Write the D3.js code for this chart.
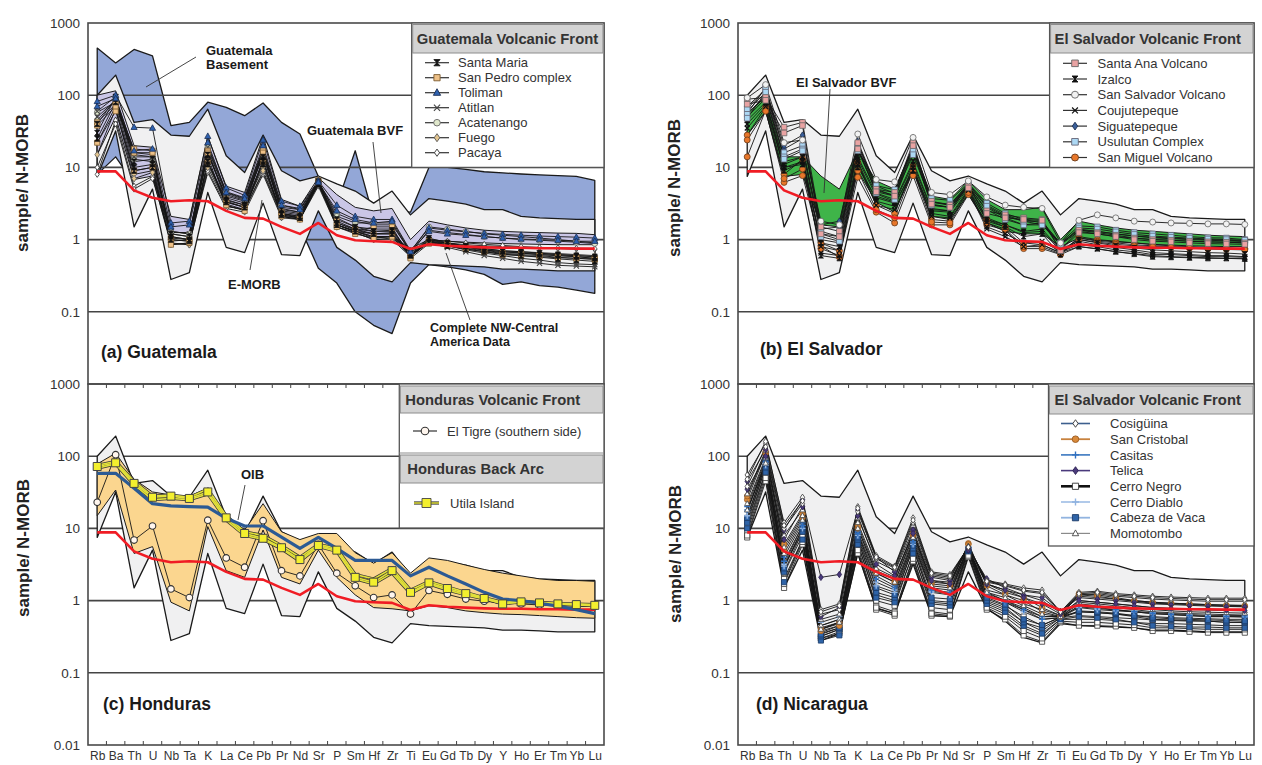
<!DOCTYPE html>
<html>
<head>
<meta charset="utf-8">
<script src="https://cdnjs.cloudflare.com/ajax/libs/d3/7.8.5/d3.min.js"></script>
<style>
  body { margin: 0; background: #fff; }
  text { font-family: "Liberation Sans", Arial, Helvetica, sans-serif; }
</style>
</head>
<body>
<svg id="fig" width="1262" height="765"></svg>
<script>
// ---- data -------------------------------------------------------------
var elements = ["Rb","Ba","Th","U","Nb","Ta","K","La","Ce","Pb","Pr","Nd","Sr","P","Sm","Hf","Zr","Ti","Eu","Gd","Tb","Dy","Y","Ho","Er","Tm","Yb","Lu"];
var yTickValues = [1000, 100, 10, 1, 0.1, 0.01];
var yTickLabels = ["1000", "100", "10", "1", "0.1", "0.01"];

// E-MORB / N-MORB (red line, all panels)
var eMorb = [8.8,8.8,4.8,3.8,3.4,3.5,3.4,2.5,2.0,1.95,1.5,1.2,1.7,1.15,0.98,0.95,0.93,0.74,0.86,0.82,0.8,0.78,0.77,0.77,0.76,0.76,0.75,0.75];
// Complete NW-Central America data (grey envelope)
var allUpper = [100,190,42,46,28,27,64,14.5,8.5,28,9,6.5,7.6,5.9,4.7,3.2,4.7,2.2,3.7,3.4,3.1,2.6,2.6,2.1,2.0,1.95,1.9,1.9];
var allLower = [7.5,32,1.5,5,0.28,0.35,4.5,0.78,0.66,3.2,0.62,0.6,2.5,0.78,0.52,0.31,0.26,0.48,0.45,0.44,0.43,0.42,0.39,0.39,0.38,0.37,0.37,0.37];

// (a) Guatemala
var basementUpper = [450,280,430,350,38,42,80,68,52,78,42,29,7.5,3.0,17,2.0,2.5,2.4,10,10,9.4,8.7,8.4,8.1,7.9,7.7,7.5,6.6];
var basementLower = [8,14,6,8,3,3,10,4,3,8,2,1.5,0.4,0.25,0.1,0.065,0.05,0.25,0.45,0.42,0.38,0.33,0.24,0.26,0.23,0.22,0.2,0.18];
var gtBvfUpper = [100,115,20,19,2.1,1.9,27,5.5,4.5,27,3.6,2.9,7.2,4.2,2.8,2.5,2.7,1.0,1.8,1.6,1.45,1.35,1.3,1.27,1.25,1.23,1.22,1.17];
var gtBvfLower = [15,50,6.8,7.6,1.25,1.25,14,2.9,2.6,13,2.1,1.9,6.0,1.6,1.3,1.1,1.1,0.75,1.0,0.95,0.92,0.9,0.88,0.87,0.86,0.85,0.85,0.85];
var gtSantaMaria = [
  [40,90,12,13,1.2,1.1,15,4.0,3.4,14,2.6,2.4,6.0,1.9,1.5,1.3,1.35,0.65,1.05,0.9,0.82,0.75,0.7,0.68,0.65,0.62,0.6,0.58],
  [30,95,10,11,1.1,1.0,12,3.5,3.0,12,2.3,2.1,5.8,1.7,1.4,1.3,1.3,0.62,1.0,0.88,0.8,0.72,0.68,0.65,0.62,0.6,0.58,0.55],
  [25,80,9,10,1.0,0.95,11,3.3,2.8,11,2.2,2.0,6.4,1.6,1.3,1.2,1.2,0.6,0.92,0.82,0.74,0.68,0.63,0.6,0.57,0.54,0.52,0.5]
];
var gtSanPedro = [
  [42,75,18,17,1.0,0.95,17,3.6,3.0,18,2.4,2.2,6.3,1.8,1.4,1.2,1.25,0.6,1.0,0.9,0.8,0.72,0.65,0.65,0.62,0.6,0.58,0.55],
  [22,60,9,10,0.85,0.9,12,3.0,2.5,12,2.1,1.9,6.0,1.5,1.2,1.05,1.1,0.58,0.95,0.85,0.76,0.7,0.64,0.62,0.6,0.57,0.55,0.53],
  [38,70,16,16,1.05,1.0,16,3.4,2.8,16,2.3,2.0,6.6,1.6,1.3,1.5,1.5,0.55,0.88,0.82,0.74,0.68,0.62,0.6,0.58,0.56,0.55,0.54]
];
var gtToliman = [
  [82,100,36,35,1.7,1.8,27,5.2,4.1,24,3.4,2.9,6.5,3.0,2.1,1.9,1.9,0.7,1.45,1.35,1.28,1.22,1.18,1.15,1.12,1.1,1.08,1.05],
  [70,90,17,18,1.5,1.6,22,4.5,3.7,20,3.0,2.6,6.2,2.5,1.9,1.7,1.8,0.68,1.3,1.2,1.15,1.1,1.05,1.02,1.0,0.98,0.95,0.95]
];
var gtAtitlan = [
  [50,85,14,14,1.1,1.0,16,3.8,3.2,15,2.5,2.3,6.0,1.7,1.35,1.2,1.2,0.62,0.95,0.82,0.72,0.65,0.6,0.55,0.52,0.48,0.46,0.45],
  [60,95,16,15,1.3,1.2,19,4.4,3.6,17,2.7,2.4,6.2,2.0,1.5,1.4,1.4,0.6,0.9,0.78,0.68,0.6,0.55,0.5,0.47,0.44,0.43,0.42]
];
var gtAcatenango = [
  [58,80,13,12,1.3,1.2,18,4.2,3.5,16,2.8,2.6,6.2,2.3,1.8,1.6,1.6,0.68,1.5,1.4,1.3,1.2,1.15,1.1,1.05,1.0,0.95,0.9],
  [45,85,15,14,1.2,1.1,20,4.6,3.8,18,3.0,2.7,6.5,2.1,1.7,1.7,1.7,0.66,1.35,1.25,1.18,1.1,1.05,1.0,0.98,0.95,0.92,0.88]
];
var gtFuego = [
  [22,70,8,9,0.9,0.85,12,3.3,2.8,10,2.3,2.1,6.5,1.6,1.3,1.1,1.1,0.6,0.95,0.88,0.8,0.75,0.7,0.68,0.66,0.64,0.62,0.6],
  [15,65,7,8.5,0.88,0.85,10,3.1,2.6,9,2.2,2.0,6.8,1.5,1.25,1.0,1.0,0.58,0.92,0.85,0.78,0.72,0.68,0.66,0.64,0.62,0.6,0.58]
];
var gtPacaya = [
  [8,45,5.5,7.5,0.85,0.9,8.5,2.7,2.4,8,2.0,1.9,5.5,1.5,1.25,1.0,1.05,0.62,0.95,0.9,0.85,0.82,0.8,0.78,0.76,0.75,0.74,0.73],
  [10,40,5,7,0.95,1.0,9,2.9,2.6,8.5,2.1,2.0,5.8,1.6,1.3,1.05,1.1,0.65,1.0,0.95,0.9,0.86,0.83,0.8,0.78,0.77,0.76,0.75]
];

// (b) El Salvador
var svBvfUpper = [55,95,14,14,7.6,5,17,6.5,5,19,4,3.6,6.5,3.6,2.6,2.6,2.8,1.0,1.8,1.6,1.45,1.35,1.3,1.25,1.2,1.15,1.12,1.1];
var svBvfLower = [28,60,7.5,8,1.6,1.5,9,3.3,2.4,9,2.1,1.9,4.2,1.7,1.3,1.2,1.2,0.8,1.05,0.98,0.93,0.9,0.86,0.84,0.82,0.81,0.8,0.8];
var svSantaAna = [
  [88,93,36,42,1.5,1.3,22,5.0,4.5,22,3.4,3.0,5.5,2.5,2.2,2.0,1.9,0.72,1.35,1.25,1.15,1.05,1.0,0.98,0.95,0.93,0.92,0.9],
  [75,85,30,38,1.2,1.1,18,4.6,4.0,20,3.1,2.8,5.2,2.3,2.0,1.9,1.85,0.7,1.25,1.2,1.1,1.0,0.95,0.93,0.9,0.88,0.87,0.86]
];
var svIzalco = [
  [45,80,10,11,1.0,0.9,14,4.3,3.4,12,2.7,2.5,5.6,2.0,1.6,1.3,1.4,0.72,1.0,0.9,0.82,0.77,0.72,0.7,0.68,0.66,0.65,0.63],
  [50,90,9,12,0.6,0.55,10,3.8,3.2,9,2.5,2.4,5.2,1.8,1.5,1.1,1.2,0.62,0.8,0.75,0.68,0.63,0.58,0.57,0.56,0.55,0.55,0.54],
  [55,100,11,14,0.9,0.8,13,4.0,3.3,11,2.6,2.5,5.8,1.9,1.6,1.25,1.3,0.7,0.95,0.85,0.78,0.72,0.66,0.64,0.62,0.6,0.6,0.58]
];
var svSanSalvador = [
  [92,140,22,24,1.8,1.6,29,6.8,6.3,26,4.5,4.2,6.5,3.9,3.0,2.8,2.7,0.9,1.85,2.2,2.0,1.8,1.75,1.7,1.68,1.65,1.65,1.62]
];
var svCoujutepeque = [
  [40,75,12,14,0.8,0.7,12,3.4,2.9,10,2.3,2.1,5.0,1.5,1.2,0.9,0.95,0.68,0.85,0.8,0.72,0.68,0.62,0.62,0.6,0.58,0.58,0.57],
  [35,70,10,12,0.65,0.6,11,3.0,2.6,9,2.1,2.0,4.8,1.4,1.1,0.8,0.85,0.66,0.8,0.74,0.68,0.64,0.6,0.58,0.57,0.56,0.55,0.55]
];
var svSiguatepeque = [
  [60,110,18,25,1.6,1.8,20,5.0,4.0,18,3.0,2.8,5.8,2.8,2.0,1.6,1.7,0.85,1.3,1.2,1.1,1.05,1.0,0.98,0.95,0.93,0.92,0.9],
  [70,120,20,28,1.4,1.5,23,5.5,4.4,20,3.3,3.0,6.0,3.0,2.2,1.8,1.8,0.88,1.4,1.3,1.2,1.12,1.06,1.03,1.0,0.98,0.96,0.94]
];
var svUsulutan = [
  [55,130,16,20,1.2,1.0,21,5.6,4.9,19,3.7,3.5,6.0,3.2,2.3,1.9,1.7,0.9,1.55,1.5,1.35,1.25,1.2,1.15,1.1,1.06,1.05,1.0],
  [65,120,14,18,1.3,1.1,19,4.4,3.6,17,3.0,2.8,5.5,2.6,1.9,1.6,1.6,0.88,1.35,1.3,1.2,1.12,1.08,1.05,1.02,1.0,0.98,0.96],
  [48,110,13,17,1.1,0.95,17,4.8,4.1,15,3.3,3.1,5.7,2.9,2.1,1.8,1.6,0.85,1.45,1.4,1.28,1.18,1.12,1.08,1.05,1.02,1.0,0.98]
];
var svSanMiguel = [
  [14,62,6.2,7.7,0.82,0.57,7.3,2.4,1.7,7.7,1.6,1.6,4.2,1.6,1.35,0.75,0.75,0.62,1.1,1.0,0.95,0.9,0.85,0.82,0.8,0.78,0.77,0.75],
  [28,68,8,13,0.9,0.7,11.7,3.0,2.3,10.5,1.9,1.8,4.8,1.9,1.5,0.9,0.85,0.65,1.05,0.95,0.9,0.85,0.82,0.8,0.78,0.77,0.76,0.74],
  [24,60,7,9.5,0.75,0.6,9,2.6,2.0,9,1.75,1.7,4.5,1.7,1.4,0.8,0.8,0.63,1.0,0.92,0.86,0.82,0.8,0.78,0.76,0.74,0.73,0.72]
];

// (c) Honduras
var hnRangeUpper = [78,110,48,32,29,28,36,15,9.5,22,9,7,8.5,8.5,4.6,3.3,4.6,2.4,3.9,3.6,3.1,2.7,2.4,2.2,2.0,1.9,1.9,1.85];
var hnRangeLower = [15,34,4.5,5.6,0.95,0.72,10.6,2.6,2.1,9.5,2.1,1.7,5,2.1,1.2,0.8,0.77,0.72,0.85,0.8,0.72,0.68,0.65,0.64,0.62,0.6,0.58,0.57];
var oib = [58,58,36,22,20.5,20,19.7,13.8,10.8,10.8,7.6,5.3,7.5,5.3,3.6,3.6,3.6,2.2,2.9,2.2,1.7,1.3,1.05,1.0,0.92,0.84,0.75,0.66];
var hnElTigre = [
  [23,105,6.9,10.8,1.45,1.1,13,3.9,2.9,12.8,2.6,2.2,6.0,2.4,1.6,1.1,1.2,0.65,1.38,1.22,1.05,0.98,0.93,0.9,0.87,0.85,0.84,0.83]
];
var hnUtila = [
  [68,78,40,25,26,25,30,13,8,7,5.2,3.5,5.6,4.8,2.0,1.7,2.4,1.25,1.7,1.4,1.2,1.05,0.92,0.95,0.92,0.89,0.87,0.85],
  [75,85,45,28,29,27,35,15,9,8,5.8,4,6,5.3,2.3,2.0,2.8,1.4,1.85,1.55,1.3,1.1,0.95,0.98,0.95,0.92,0.9,0.88],
  [72,81,42,27,28,26,32,14,8.5,7.3,5.4,3.7,5.8,5.0,2.1,1.8,2.6,1.3,1.76,1.47,1.25,1.07,0.9,0.96,0.93,0.9,0.88,0.86]
];

// (d) Nicaragua
var niCosiguina = [
  [55,150,12,27,0.75,0.9,20,4.2,3.0,14,2.5,2.3,5.5,1.9,1.7,1.5,1.4,0.7,1.3,1.35,1.25,1.2,1.15,1.12,1.1,1.08,1.08,1.08],
  [38,135,10,22,0.65,0.75,17,3.8,2.8,12,2.3,2.1,5.6,1.8,1.6,1.35,1.25,0.7,1.2,1.25,1.15,1.1,1.05,1.02,1.0,0.98,0.98,0.98],
  [48,160,11,24,0.7,0.85,19,4.0,2.9,13,2.4,2.2,5.5,1.85,1.65,1.4,1.3,0.7,1.25,1.3,1.2,1.15,1.1,1.07,1.05,1.03,1.03,1.03]
];
var niSanCristobal = [
  [25,110,5,14,0.38,0.45,10,2.4,1.8,8,1.7,1.6,6.2,1.6,1.2,1.0,0.7,0.6,1.25,1.2,1.1,1.0,0.95,0.92,0.9,0.88,0.86,0.85],
  [28,115,6,16,0.42,0.5,11,2.6,2.0,8.5,1.8,1.7,6.0,1.7,1.3,1.1,0.8,0.62,1.2,1.15,1.05,0.98,0.92,0.9,0.88,0.86,0.84,0.83]
];
var niCasitas = [
  [20,90,4,12,0.4,0.5,9,2.2,1.6,7,1.5,1.4,5.6,1.3,1.0,0.8,0.6,0.6,0.9,0.85,0.8,0.75,0.7,0.68,0.66,0.65,0.64,0.63],
  [18,85,3.5,11,0.36,0.45,8.5,2.0,1.5,6.5,1.4,1.3,5.4,1.2,0.95,0.75,0.55,0.58,0.85,0.8,0.75,0.7,0.66,0.64,0.62,0.6,0.6,0.59]
];
var niTelica = [
  [45,124,9.5,25,2.1,2.3,18,4,2.5,9.5,2.1,1.9,5.3,2.0,1.5,1.2,1.1,0.7,1.1,1.05,1.0,0.95,0.9,0.88,0.86,0.84,0.83,0.82],
  [35,100,7,20,0.6,0.8,15,3.2,2.2,8.5,1.9,1.7,5.0,1.7,1.4,1.1,0.9,0.65,1.0,0.95,0.9,0.85,0.8,0.78,0.76,0.75,0.74,0.73]
];
var niCerroNegro = [
  [7.5,45,1.5,6,0.3,0.35,4.5,0.75,0.62,3.5,0.62,0.6,4,0.75,0.55,0.33,0.27,0.5,0.45,0.45,0.44,0.42,0.38,0.38,0.37,0.36,0.36,0.36],
  [9,55,2,7,0.32,0.4,5.5,0.85,0.7,4,0.7,0.65,4.3,0.85,0.65,0.42,0.33,0.55,0.55,0.55,0.53,0.5,0.48,0.48,0.47,0.46,0.45,0.45],
  [11,62,2.4,8,0.35,0.42,6.3,1.0,0.85,4.6,0.8,0.75,4.6,0.95,0.75,0.5,0.38,0.58,0.62,0.6,0.58,0.56,0.54,0.53,0.52,0.52,0.5,0.5],
  [8,50,1.7,6.5,0.3,0.37,5,0.8,0.66,3.8,0.66,0.62,4.2,0.8,0.6,0.38,0.3,0.52,0.5,0.5,0.48,0.46,0.42,0.42,0.41,0.4,0.4,0.4],
  [13,70,3,9,0.4,0.48,7,1.2,1.0,5.5,0.95,0.9,5,1.05,0.85,0.6,0.45,0.6,0.7,0.68,0.65,0.62,0.6,0.58,0.57,0.56,0.55,0.55]
];
var niCerroDiablo = [
  [15,75,3,10,0.5,0.6,8,1.6,1.3,6,1.3,1.2,5.2,1.2,0.95,0.7,0.55,0.58,0.8,0.75,0.72,0.7,0.66,0.64,0.62,0.6,0.6,0.6],
  [17,80,3.2,11,0.45,0.55,8.5,1.8,1.4,6.5,1.35,1.25,5.3,1.25,1.0,0.75,0.6,0.6,0.82,0.78,0.74,0.71,0.68,0.66,0.64,0.62,0.62,0.62]
];
var niCabezaDeVaca = [
  [10,60,1.8,7,0.28,0.33,6,1.1,0.95,4.5,0.9,0.85,4.8,0.9,0.7,0.45,0.35,0.55,0.6,0.58,0.55,0.5,0.45,0.44,0.43,0.43,0.42,0.42],
  [12,70,2.5,9,0.32,0.4,7,1.3,1.1,5.3,1.0,0.95,5,1.0,0.8,0.5,0.42,0.57,0.7,0.68,0.65,0.6,0.55,0.54,0.53,0.52,0.5,0.5],
  [14,78,2.8,10,0.34,0.42,7.5,1.5,1.2,5.8,1.1,1.05,5.1,1.1,0.88,0.55,0.46,0.58,0.72,0.7,0.67,0.62,0.58,0.56,0.55,0.54,0.53,0.52]
];
var niMomotombo = [
  [22,95,5.5,15,0.45,0.55,12,2.8,2.1,9,1.9,1.8,5.5,1.4,1.2,0.9,0.75,0.62,1.0,0.95,0.9,0.85,0.8,0.78,0.75,0.74,0.73,0.72],
  [30,120,8,18,0.55,0.65,14,3.5,2.6,11,2.2,2.0,5.7,1.7,1.4,1.2,1.0,0.68,1.15,1.1,1.05,1.0,0.95,0.92,0.9,0.88,0.87,0.86],
  [18,80,4.5,13,0.4,0.5,10,2.4,1.8,7.5,1.6,1.5,5.3,1.3,1.1,0.85,0.65,0.6,0.95,0.9,0.85,0.8,0.75,0.72,0.7,0.69,0.68,0.67]
];

// ---- drawing ----------------------------------------------------------
var svg = d3.select("#fig");
var defs = svg.append("defs");
var FONT = "'Liberation Sans', Arial, sans-serif";

function markerPath(shape, r) {
  switch (shape) {
    case "circle": return d3.symbol(d3.symbolCircle, Math.PI * r * r)();
    case "square": return "M" + (-r) + "," + (-r) + "h" + 2 * r + "v" + 2 * r + "h" + (-2 * r) + "Z";
    case "triangle": return "M0," + (-r * 1.2) + "L" + r * 1.1 + "," + r * 0.8 + "L" + (-r * 1.1) + "," + r * 0.8 + "Z";
    case "diamond": return "M0," + (-r * 1.3) + "L" + r * 0.9 + ",0L0," + r * 1.3 + "L" + (-r * 0.9) + ",0Z";
    case "plus": return "M" + (-r) + ",0H" + r + "M0," + (-r) + "V" + r;
    case "x": return "M" + (-r) + "," + (-r) + "L" + r + "," + r + "M" + (-r) + "," + r + "L" + r + "," + (-r);
    case "hourglass": return "M" + (-r) + "," + (-r) + "H" + r + "L" + (-r) + "," + r + "H" + r + "Z";
  }
}

function setupPanel(p) {
  p.x = d3.scalePoint().domain(elements).range([p.left, p.right]).padding(0.5);
  p.y = d3.scaleLog().domain([0.01, 1000]).range([p.bottom, p.top]);
  defs.append("clipPath").attr("id", "clip-" + p.id).append("rect")
    .attr("x", p.left).attr("y", p.top)
    .attr("width", p.right - p.left).attr("height", p.bottom - p.top);
  p.g = svg.append("g");
  p.plot = p.g.append("g").attr("clip-path", "url(#clip-" + p.id + ")");
  p.line = d3.line()
    .x(function(d, i) { return p.x(elements[i]); })
    .y(function(d) { return p.y(d); });
  p.area = d3.area()
    .x(function(d, i) { return p.x(elements[i]); })
    .y0(function(d) { return p.y(d[0]); })
    .y1(function(d) { return p.y(d[1]); });
  return p;
}

function drawBand(p, lower, upper, fill, sw) {
  p.plot.append("path").datum(d3.zip(lower, upper))
    .attr("d", p.area).attr("fill", fill)
    .attr("stroke", "#1a1a1a").attr("stroke-width", sw).attr("stroke-linejoin", "round");
}

function drawGrid(p) {
  p.plot.selectAll(null).data([100, 10, 1, 0.1]).enter().append("line")
    .attr("x1", p.left).attr("x2", p.right)
    .attr("y1", function(d) { return p.y(d); }).attr("y2", function(d) { return p.y(d); })
    .attr("stroke", "#444").attr("stroke-width", 1.6);
}

function drawSamples(p, groups) {
  groups.forEach(function(gr) {
    gr.data.forEach(function(vals) {
      p.plot.append("path").datum(vals).attr("d", p.line)
        .attr("fill", "none").attr("stroke", "#151515").attr("stroke-width", 0.9);
    });
  });
  groups.forEach(function(gr) {
    gr.data.forEach(function(vals) {
      p.plot.selectAll(null).data(vals).enter().append("path")
        .attr("transform", function(d, i) { return "translate(" + p.x(elements[i]) + "," + p.y(d) + ")"; })
        .attr("d", markerPath(gr.style.shape, gr.style.r))
        .attr("fill", gr.style.fill).attr("stroke", gr.style.stroke)
        .attr("stroke-width", gr.style.sw || 0.8);
    });
  });
}

function drawRefLine(p, vals, color, w) {
  p.plot.append("path").datum(vals).attr("d", p.line)
    .attr("fill", "none").attr("stroke", color).attr("stroke-width", w)
    .attr("stroke-linejoin", "round");
}

function drawFrame(p, labels, showX) {
  var ax = p.g.append("g").attr("transform", "translate(" + p.left + ",0)")
    .call(d3.axisLeft(p.y).tickValues(labels).tickSize(0).tickPadding(8)
      .tickFormat(function(d) { return yTickLabels[yTickValues.indexOf(d)]; }));
  ax.select(".domain").remove();
  ax.selectAll("text").attr("font-size", 13.5).attr("fill", "#333").style("font-family", FONT);
  if (showX) {
    var bx = p.g.append("g").attr("transform", "translate(0," + p.bottom + ")")
      .call(d3.axisBottom(p.x).tickSize(0).tickPadding(6));
    bx.select(".domain").remove();
    bx.selectAll("text").attr("font-size", 12).attr("fill", "#333").style("font-family", FONT);
    var step = p.x.step();
    var edges = elements.slice(1).map(function(e) { return p.x(e) - step / 2; });
    [p.top, p.bottom].forEach(function(yy, k) {
      p.g.selectAll(null).data(edges).enter().append("line")
        .attr("x1", function(d) { return d; }).attr("x2", function(d) { return d; })
        .attr("y1", yy).attr("y2", k === 0 ? yy + 4 : yy - 4)
        .attr("stroke", "#444").attr("stroke-width", 1);
    });
  }
  p.g.append("rect").attr("x", p.left).attr("y", p.top)
    .attr("width", p.right - p.left).attr("height", p.bottom - p.top)
    .attr("fill", "none").attr("stroke", "#4a4a4a").attr("stroke-width", 1.6);
}

function yTitle(x, y) {
  svg.append("text").attr("transform", "translate(" + x + "," + y + ") rotate(-90)")
    .attr("text-anchor", "middle").attr("dy", "0.35em")
    .attr("font-size", 17).attr("font-weight", "bold").attr("fill", "#222")
    .text("sample/ N-MORB");
}

function note(lines, x, y, size, lh) {
  var t = svg.append("text").attr("x", x).attr("y", y)
    .attr("font-size", size).attr("font-weight", "bold").attr("fill", "#1a1a1a");
  lines.forEach(function(s, i) {
    t.append("tspan").attr("x", x).attr("dy", i === 0 ? 0 : lh).text(s);
  });
}

function leader(x1, y1, x2, y2) {
  svg.append("line").attr("x1", x1).attr("y1", y1).attr("x2", x2).attr("y2", y2)
    .attr("stroke", "#333").attr("stroke-width", 0.9);
}

function drawLegend(box, rows, lx0, lx1, tx) {
  var lg = svg.append("g");
  lg.append("rect").attr("x", box[0]).attr("y", box[1])
    .attr("width", box[2] - box[0]).attr("height", box[3] - box[1])
    .attr("fill", "#fff").attr("stroke", "#555").attr("stroke-width", 1.3);
  rows.forEach(function(r) {
    if (r.header) {
      lg.append("rect").attr("x", box[0] + 1).attr("y", r.y0)
        .attr("width", box[2] - box[0] - 2).attr("height", r.y1 - r.y0)
        .attr("fill", "#d3d3d3").attr("stroke", "#8c8c8c").attr("stroke-width", 1);
      lg.append("text").attr("x", box[0] + r.dx).attr("y", (r.y0 + r.y1) / 2).attr("dy", "0.36em")
        .attr("font-size", 14.8).attr("font-weight", "bold").attr("fill", "#333").text(r.header);
    } else if (r.sep) {
      lg.append("line").attr("x1", box[0]).attr("x2", box[2]).attr("y1", r.sep).attr("y2", r.sep)
        .attr("stroke", "#8c8c8c").attr("stroke-width", 1);
    } else {
      var st = r.style;
      var ax0 = r.lx0 || lx0, ax1 = r.lx1 || lx1;
      lg.append("line").attr("x1", ax0).attr("x2", ax1).attr("y1", r.y).attr("y2", r.y)
        .attr("stroke", st.line || "#333").attr("stroke-width", st.lineW || 1.2);
      if (st.core) {
        lg.append("line").attr("x1", ax0).attr("x2", ax1).attr("y1", r.y).attr("y2", r.y)
          .attr("stroke", st.core).attr("stroke-width", st.coreW);
      }
      lg.append("path").attr("transform", "translate(" + (ax0 + ax1) / 2 + "," + r.y + ")")
        .attr("d", markerPath(st.shape, st.lr || st.r + 0.5))
        .attr("fill", st.fill).attr("stroke", st.stroke).attr("stroke-width", st.sw || 0.9);
      lg.append("text").attr("x", r.tx || tx).attr("y", r.y).attr("dy", "0.36em")
        .attr("font-size", 13).attr("fill", "#333").text(r.name);
    }
  });
}

// marker styles
var stSantaMaria = { shape: "hourglass", r: 2.6, fill: "#111", stroke: "#111" };
var stSanPedro = { shape: "square", r: 2.6, fill: "#eec188", stroke: "#7a5a30" };
var stToliman = { shape: "triangle", r: 2.8, fill: "#2f62b0", stroke: "#1b2f55" };
var stAtitlan = { shape: "x", r: 2.6, fill: "none", stroke: "#444", sw: 1.1 };
var stAcatenango = { shape: "circle", r: 2.8, fill: "#e0e8cc", stroke: "#666" };
var stFuego = { shape: "diamond", r: 2.6, fill: "#e4c690", stroke: "#555" };
var stPacaya = { shape: "diamond", r: 2.3, fill: "#fff", stroke: "#333" };

var stSantaAna = { shape: "square", r: 2.8, fill: "#e9a3a3", stroke: "#666" };
var stIzalco = { shape: "hourglass", r: 2.5, fill: "#111", stroke: "#111" };
var stSanSalvador = { shape: "circle", r: 3, fill: "#f2f2f2", stroke: "#666" };
var stCoujutepeque = { shape: "x", r: 2.4, fill: "none", stroke: "#111", sw: 1.2 };
var stSiguatepeque = { shape: "diamond", r: 2.5, fill: "#3a5f9a", stroke: "#1d2f50" };
var stUsulutan = { shape: "square", r: 2.8, fill: "#acd8f4", stroke: "#667" };
var stSanMiguel = { shape: "circle", r: 3, fill: "#e8772a", stroke: "#6a3a18" };

var stElTigre = { shape: "circle", r: 3.3, fill: "#fff6ee", stroke: "#333", sw: 1.1 };
var stUtila = { shape: "square", r: 4, fill: "#f3ef2e", stroke: "#444", sw: 1 };
var stUtilaLegend = { shape: "square", r: 3.6, lr: 4.5, fill: "#f3ef2e", stroke: "#444", line: "#333", lineW: 3.2, core: "#e2e03a", coreW: 1.5 };

var stCosiguina = { shape: "diamond", r: 2.4, fill: "#fff", stroke: "#333", line: "#3d5f8e", lineW: 1.6 };
var stSanCristobal = { shape: "circle", r: 2.8, fill: "#d98a3a", stroke: "#9a5a20", line: "#c8823e", lineW: 1.8 };
var stCasitas = { shape: "plus", r: 3, fill: "none", stroke: "#2f6fc0", sw: 1.4, line: "#3a78c0", lineW: 1.6 };
var stTelica = { shape: "diamond", r: 2.5, fill: "#4a3a7c", stroke: "#2a2050", line: "#4a3a7c", lineW: 1.6 };
var stCerroNegro = { shape: "square", r: 2.6, fill: "#fff", stroke: "#333", line: "#111", lineW: 2.6 };
var stCerroDiablo = { shape: "plus", r: 3, fill: "none", stroke: "#8fb2e0", sw: 1.4, line: "#a9c4e8", lineW: 1.8 };
var stCabeza = { shape: "square", r: 2.6, fill: "#2f64a8", stroke: "#1b3a66", line: "#92b4e0", lineW: 1.8 };
var stMomotombo = { shape: "triangle", r: 2.4, fill: "#fff", stroke: "#444", line: "#8a8a8a", lineW: 1.2 };

// ---- panel (a) Guatemala ----
var pa = setupPanel({ id: "a", left: 88, right: 604, top: 23, bottom: 384 });
drawBand(pa, basementLower, basementUpper, "#93a7d7", 1.3);
drawGrid(pa);
drawBand(pa, allLower, allUpper, "#f0f0f1", 1.3);
drawBand(pa, gtBvfLower, gtBvfUpper, "#cac6e6", 1.0);
drawSamples(pa, [
  { data: gtPacaya, style: stPacaya }, { data: gtFuego, style: stFuego },
  { data: gtAcatenango, style: stAcatenango }, { data: gtAtitlan, style: stAtitlan },
  { data: gtSanPedro, style: stSanPedro }, { data: gtSantaMaria, style: stSantaMaria },
  { data: gtToliman, style: stToliman }
]);
drawRefLine(pa, eMorb, "#f01c24", 2.6);
drawFrame(pa, [1000, 100, 10, 1, 0.1], false);
drawLegend([411.7, 23, 604, pa.y(10)], [
  { header: "Guatemala Volcanic Front", y0: 24.5, y1: 53, dx: 5 },
  { name: "Santa Maria", y: 62.7, style: stSantaMaria },
  { name: "San Pedro complex", y: 77.7, style: stSanPedro },
  { name: "Toliman", y: 92.7, style: stToliman },
  { name: "Atitlan", y: 107.7, style: stAtitlan },
  { name: "Acatenango", y: 122.7, style: stAcatenango },
  { name: "Fuego", y: 137.7, style: stFuego },
  { name: "Pacaya", y: 152.7, style: stPacaya }
], 425, 449, 458);
note(["Guatemala", "Basement"], 206, 55, 13, 13.5);
leader(196, 57, 146, 87);
note(["Guatemala BVF"], 307, 135, 13, 0);
leader(373, 142, 381, 213);
note(["E-MORB"], 228, 289, 13, 0);
leader(250, 270, 262, 200);
note(["Complete NW-Central", "America Data"], 430, 332, 12.5, 14);
leader(470, 320, 446, 253);
note(["(a) Guatemala"], 101, 358, 17.5, 0);
yTitle(22, 183);

// ---- panel (b) El Salvador ----
var pb = setupPanel({ id: "b", left: 738, right: 1254, top: 23, bottom: 384 });
drawGrid(pb);
drawBand(pb, allLower, allUpper, "#f0f0f1", 1.3);
drawBand(pb, svBvfLower, svBvfUpper, "#3fb449", 1.0);
drawSamples(pb, [
  { data: svSanMiguel, style: stSanMiguel }, { data: svCoujutepeque, style: stCoujutepeque },
  { data: svIzalco, style: stIzalco }, { data: svSiguatepeque, style: stSiguatepeque },
  { data: svUsulutan, style: stUsulutan }, { data: svSantaAna, style: stSantaAna },
  { data: svSanSalvador, style: stSanSalvador }
]);
drawRefLine(pb, eMorb, "#f01c24", 2.6);
drawFrame(pb, [1000, 100, 10, 1, 0.1], false);
drawLegend([1049.6, 23, 1254, pb.y(10)], [
  { header: "El Salvador Volcanic Front", y0: 24.5, y1: 53, dx: 5 },
  { name: "Santa Ana Volcano", y: 63.3, style: stSantaAna },
  { name: "Izalco", y: 79, style: stIzalco },
  { name: "San Salvador Volcano", y: 94.7, style: stSanSalvador },
  { name: "Coujutepeque", y: 110.4, style: stCoujutepeque },
  { name: "Siguatepeque", y: 126.1, style: stSiguatepeque },
  { name: "Usulutan Complex", y: 141.8, style: stUsulutan },
  { name: "San Miguel Volcano", y: 157.5, style: stSanMiguel }
], 1063, 1087, 1097.5);
note(["El Salvador BVF"], 796, 86.5, 13, 0);
leader(830, 89, 824, 193);
note(["(b) El Salvador"], 760, 355, 17.5, 0);
yTitle(674, 188);

// ---- panel (c) Honduras ----
var pc = setupPanel({ id: "c", left: 88, right: 604, top: 384, bottom: 745 });
drawGrid(pc);
drawBand(pc, allLower, allUpper, "#f0f0f1", 1.3);
drawBand(pc, hnRangeLower, hnRangeUpper, "#fbd68f", 1.0);
drawSamples(pc, [{ data: hnElTigre, style: stElTigre }]);
hnUtila.forEach(function(vals) {
  pc.plot.append("path").datum(vals).attr("d", pc.line)
    .attr("fill", "none").attr("stroke", "#333").attr("stroke-width", 3);
});
hnUtila.forEach(function(vals) {
  pc.plot.append("path").datum(vals).attr("d", pc.line)
    .attr("fill", "none").attr("stroke", "#e2e03a").attr("stroke-width", 1.6);
});
drawRefLine(pc, eMorb, "#f01c24", 2.6);
drawRefLine(pc, oib, "#2c5a94", 3.2);
pc.plot.selectAll(null).data(hnUtila[2]).enter().append("path")
  .attr("transform", function(d, i) { return "translate(" + pc.x(elements[i]) + "," + pc.y(d) + ")"; })
  .attr("d", markerPath("square", stUtila.r))
  .attr("fill", stUtila.fill).attr("stroke", stUtila.stroke).attr("stroke-width", 1);
drawFrame(pc, yTickValues, true);
drawLegend([399.3, 384, 604, 528], [
  { header: "Honduras Volcanic Front", y0: 386, y1: 413, dx: 6 },
  { name: "El Tigre (southern side)", y: 431, style: stElTigre, lx0: 413, lx1: 437, tx: 447 },
  { sep: 453 },
  { header: "Honduras Back Arc", y0: 455, y1: 483, dx: 8 },
  { name: "Utila Island", y: 503, style: stUtilaLegend, lx0: 414, lx1: 439, tx: 450 }
], 414, 438, 449);
note(["OIB"], 241, 479, 13, 0);
leader(245, 485, 238, 520);
note(["(c) Honduras"], 103, 710, 17.5, 0);
yTitle(23, 548);

// ---- panel (d) Nicaragua ----
var pd = setupPanel({ id: "d", left: 738, right: 1254, top: 384, bottom: 745 });
drawGrid(pd);
drawBand(pd, allLower, allUpper, "#f0f0f1", 1.3);
drawSamples(pd, [
  { data: niCerroNegro, style: stCerroNegro }, { data: niCabezaDeVaca, style: stCabeza },
  { data: niCerroDiablo, style: stCerroDiablo }, { data: niCasitas, style: stCasitas },
  { data: niSanCristobal, style: stSanCristobal }, { data: niMomotombo, style: stMomotombo },
  { data: niTelica, style: stTelica }, { data: niCosiguina, style: stCosiguina }
]);
drawRefLine(pd, eMorb, "#f01c24", 2.6);
drawFrame(pd, yTickValues, true);
drawLegend([1048.5, 384, 1254, 546], [
  { header: "El Salvador Volcanic Front", y0: 386, y1: 414, dx: 6 },
  { name: "Cosigüina", y: 423.5, style: stCosiguina },
  { name: "San Cristobal", y: 439.2, style: stSanCristobal },
  { name: "Casitas", y: 454.9, style: stCasitas },
  { name: "Telica", y: 470.6, style: stTelica },
  { name: "Cerro Negro", y: 486.3, style: stCerroNegro },
  { name: "Cerro Diablo", y: 502, style: stCerroDiablo },
  { name: "Cabeza de Vaca", y: 517.7, style: stCabeza },
  { name: "Momotombo", y: 533.4, style: stMomotombo }
], 1061, 1090, 1110);
note(["(d) Nicaragua"], 756, 710, 17.5, 0);
yTitle(675, 554);
</script>
</body>
</html>
